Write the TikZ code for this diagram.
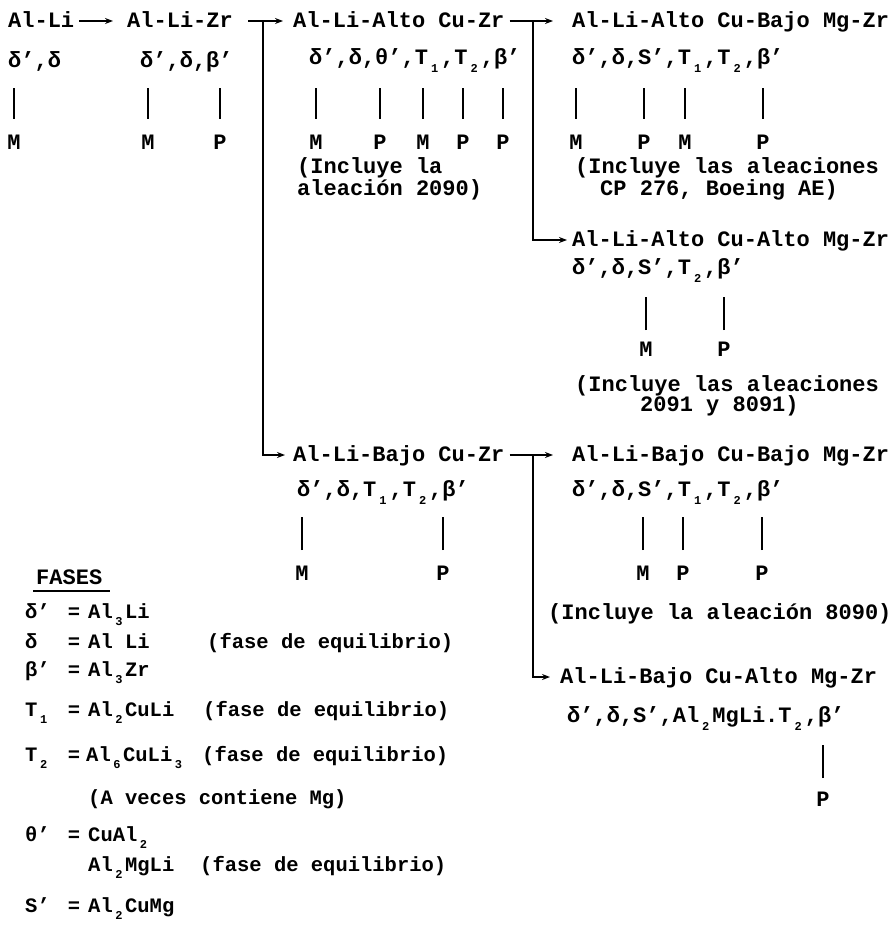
\documentclass[tikz,border=0pt]{standalone}
\usepackage{fontspec}
\newfontfamily\tw{Liberation Mono}
\usetikzlibrary{arrows.meta}
\newcommand\dfont{\tw\bfseries\fontsize{22pt}{24pt}\selectfont}
\newcommand\lfont{\tw\bfseries\fontsize{20.5pt}{22pt}\selectfont}
\newcommand\sbx[1]{\makebox[0.6em][c]{\raisebox{-0.36em}{\fontsize{12pt}{12pt}\selectfont #1}}}
\newcommand\pr{’}
\begin{document}
\begin{tikzpicture}[x=1pt,y=-1pt,
  txt/.style={inner sep=0pt, anchor=west, text height=13pt, text depth=0pt, font=\dfont},
  lst/.style={txt, text height=12pt, font=\lfont},
  lbl/.style={txt, anchor=center},
  eq/.style={lst, anchor=center},
  arr/.style={line width=1.5pt, -{Stealth[length=8pt,width=6pt]}},
  ln/.style={line width=1.6pt},
  tick/.style={line width=1.7pt},
]
\useasboundingbox[fill=white] (0,0) rectangle (893,925);
% ---- family titles
\node[txt] (n1) at (8,21) {Al-Li};
\node[txt] (n2) at (127,21) {Al-Li-Zr};
\node[txt] (n3) at (293,21) {Al-Li-Alto Cu-Zr};
\node[txt] (n4) at (572,21) {Al-Li-Alto Cu-Bajo Mg-Zr};
\node[txt] (n5) at (572,240) {Al-Li-Alto Cu-Alto Mg-Zr};
\node[txt] (n6) at (293,455) {Al-Li-Bajo Cu-Zr};
\node[txt] (n7) at (572,455) {Al-Li-Bajo Cu-Bajo Mg-Zr};
\node[txt] (n8) at (560,677) {Al-Li-Bajo Cu-Alto Mg-Zr};
% ---- connectors
\draw[arr] ([xshift=5pt]n1.east) -- ([xshift=-14pt]n2.west);
\draw[arr] ([xshift=15pt]n2.east) -- ([xshift=-10pt]n3.west);
\coordinate (j1) at ([xshift=-30pt]n3.west);
\draw[arr] (j1) |- ([xshift=-8pt]n6.west);
\draw[arr] ([xshift=5pt]n3.east) -- ([xshift=-19pt]n4.west);
\coordinate (j2) at ([xshift=-39pt]n4.west);
\draw[arr] (j2) |- ([xshift=-5pt]n5.west);
\draw[arr] ([xshift=5pt]n6.east) -- ([xshift=-19pt]n7.west);
\coordinate (j3) at ([xshift=-39pt]n7.west);
\draw[arr] (j3) |- ([xshift=-10pt]n8.west);
% ---- phases
\node[txt] (p1) at (8,61) {δ\pr,δ};
\node[txt] (p2) at (140,61) {δ\pr,δ,β\pr};
\node[txt] (p3) at (309,58) {δ\pr,δ,θ\pr,T\sbx{1},T\sbx{2},β\pr};
\node[txt] (p4) at (572,58) {δ\pr,δ,S\pr,T\sbx{1},T\sbx{2},β\pr};
\node[txt] (p5) at (572,268) {δ\pr,δ,S\pr,T\sbx{2},β\pr};
\node[txt] (p6) at (297,490) {δ\pr,δ,T\sbx{1},T\sbx{2},β\pr};
\node[txt] (p7) at (572,490) {δ\pr,δ,S\pr,T\sbx{1},T\sbx{2},β\pr};
\node[txt] (p8) at (567,716) {δ\pr,δ,S\pr,Al\sbx{2}MgLi.T\sbx{2},β\pr};
% ---- M / P labels with their ticks
\foreach \nm/\x/\t in {m11/14/M, m21/148/M, m22/220/P, m31/316/M, m32/380/P, m33/423/M, m34/463/P, m35/503/P, m41/576/M, m42/644/P, m43/685/M, m44/763/P}{
  \node[lbl] (\nm) at (\x,143) {\t};
  \draw[tick] (\nm) ++(0,-24) -- ++(0,-31);
}
\foreach \nm/\x/\t in {m51/646/M, m52/724/P}{
  \node[lbl] (\nm) at (\x,350) {\t};
  \draw[tick] (\nm) ++(0,-20) -- ++(0,-33);
}
\foreach \nm/\x/\t in {m61/302/M, m62/443/P, m71/643/M, m72/683/P, m73/762/P}{
  \node[lbl] (\nm) at (\x,574) {\t};
  \draw[tick] (\nm) ++(0,-24) -- ++(0,-33);
}
\node[lbl] (m81) at (823,800) {P};
\draw[tick] (m81) ++(0,-22) -- ++(0,-33);
% ---- alloy notes
\node[txt] (i31) at (297,167) {(Incluye la};
\node[txt] (i32) at (297,189) {aleación 2090)};
\node[txt] (i41) at (575,167) {(Incluye las aleaciones};
\node[txt] (i42) at (600,189) {CP 276, Boeing AE)};
\node[txt] (i51) at (575,385) {(Incluye las aleaciones};
\node[txt] (i52) at (640,405) {2091 y 8091)};
\node[txt] (i71) at (548,613) {(Incluye la aleación 8090)};
% ---- FASES legend
\node[txt] (fs) at (36,578) {FASES};
\draw[ln] ([xshift=-3pt,yshift=-6pt]fs.south west) -- ([xshift=8pt,yshift=-6pt]fs.south east);
\node[lst] (s1) at (25,612) {δ\pr};
\node[eq] (e1) at (74,612) {=};
\node[lst] (f1) at (88,612) {Al\sbx{3}Li};
\node[lst] (s2) at (25,642) {δ};
\node[eq] (e2) at (74,642) {=};
\node[lst] (f2) at (88,642) {Al Li};
\node[lst] (r2) at (207,642) {(fase de equilibrio)};
\node[lst] (s3) at (25,670) {β\pr};
\node[eq] (e3) at (74,670) {=};
\node[lst] (f3) at (88,670) {Al\sbx{3}Zr};
\node[lst] (s4) at (25,710) {T\sbx{1}};
\node[eq] (e4) at (74,710) {=};
\node[lst] (f4) at (88,710) {Al\sbx{2}CuLi};
\node[lst] (r4) at (203,710) {(fase de equilibrio)};
\node[lst] (s5) at (25,755) {T\sbx{2}};
\node[eq] (e5) at (74,755) {=};
\node[lst] (f5) at (86,755) {Al\sbx{6}CuLi\sbx{3}};
\node[lst] (r5) at (202,755) {(fase de equilibrio)};
\node[lst] (a5) at (88,798) {(A veces contiene Mg)};
\node[lst] (s6) at (25,835) {θ\pr};
\node[eq] (e6) at (74,835) {=};
\node[lst] (f6) at (88,835) {CuAl\sbx{2}};
\node[lst] (f7) at (88,865) {Al\sbx{2}MgLi};
\node[lst] (r7) at (200,865) {(fase de equilibrio)};
\node[lst] (s8) at (25,906) {S\pr};
\node[eq] (e8) at (74,906) {=};
\node[lst] (f8) at (88,906) {Al\sbx{2}CuMg};
\end{tikzpicture}
\end{document}
